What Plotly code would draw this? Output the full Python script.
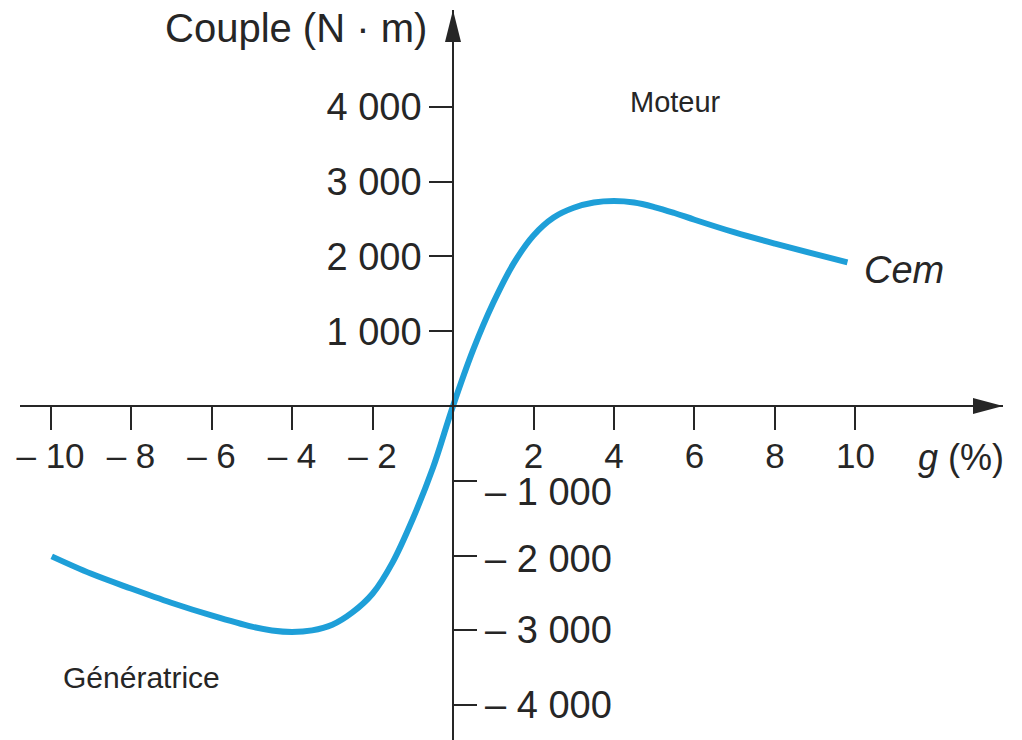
import plotly.graph_objects as go

# Slip g (%) and electromagnetic torque Cem (N·m), generator side then motor side
slip = [-9.97, -9.0, -8.0, -7.0, -6.0, -5.0, -4.5, -4.0, -3.5, -3.0, -2.5, -2.0, -1.5, -1.0, -0.5,
        0.0, 0.5, 1.0, 1.5, 2.0, 2.5, 3.0, 3.5, 4.0, 4.5, 5.0, 5.5, 6.0, 7.0, 8.0, 9.0, 9.8]
torque = [-2010, -2240, -2440, -2630, -2800, -2950, -3000, -3020, -3000, -2925, -2760, -2510, -2090, -1510, -830,
          0, 750, 1380, 1900, 2280, 2520, 2650, 2720, 2740, 2720, 2660, 2580, 2490, 2320, 2170, 2030, 1920]

x_ticks = [-10, -8, -6, -4, -2, 2, 4, 6, 8, 10]
x_tick_text = ["– 10", "– 8", "– 6", "– 4", "– 2", "2", "4", "6", "8", "10"]
y_ticks_pos = [1000, 2000, 3000, 4000]
y_tick_text_pos = ["1 000", "2 000", "3 000", "4 000"]
y_ticks_neg = [-1000, -2000, -3000, -4000]
y_tick_text_neg = ["– 1 000", "– 2 000", "– 3 000", "– 4 000"]

X_RANGE = [-10.758, 13.665]
Y_RANGE = [-4465, 5294]

FONT = "Liberation Sans, Arial, sans-serif"
INK = "#262626"
CURVE = "#1E9FD8"

x_pos = (0 - X_RANGE[0]) / (X_RANGE[1] - X_RANGE[0])
y_pos = (0 - Y_RANGE[0]) / (Y_RANGE[1] - Y_RANGE[0])

fig = go.Figure()
fig.add_trace(go.Scatter(
    x=slip, y=torque, mode="lines",
    line=dict(color=CURVE, width=6, shape="spline", smoothing=1.0),
    hoverinfo="skip", showlegend=False,
))
# empty companion trace so the right-hand (negative) torque axis is rendered
fig.add_trace(go.Scatter(x=[], y=[], yaxis="y2", mode="lines",
                         hoverinfo="skip", showlegend=False))

fig.update_layout(
    width=1022, height=740,
    margin=dict(l=20, r=19, t=10, b=0),
    paper_bgcolor="white", plot_bgcolor="white",
    font=dict(family=FONT, color=INK),
    xaxis=dict(
        range=X_RANGE, anchor="free", position=y_pos,
        showline=True, linecolor=INK, linewidth=1.6,
        showgrid=False, zeroline=False,
        tickmode="array", tickvals=x_ticks, ticktext=x_tick_text,
        ticks="outside", ticklen=23, tickwidth=1.5, tickcolor=INK,
        tickfont=dict(size=35, family=FONT, color=INK),
        ticklabelstandoff=-4,
    ),
    yaxis=dict(
        range=Y_RANGE, anchor="free", position=x_pos, side="left",
        showline=True, linecolor=INK, linewidth=1.6,
        showgrid=False, zeroline=False,
        tickmode="array", tickvals=y_ticks_pos, ticktext=y_tick_text_pos,
        ticks="outside", ticklen=23, tickwidth=1.5, tickcolor=INK,
        tickfont=dict(size=38, family=FONT, color=INK),
    ),
    yaxis2=dict(
        range=Y_RANGE, overlaying="y", anchor="free", position=x_pos, side="right",
        showline=False, showgrid=False, zeroline=False,
        tickmode="array", tickvals=y_ticks_neg, showticklabels=False,
        ticks="outside", ticklen=23, tickwidth=1.5, tickcolor=INK,
    ),
)

# labels of the negative torque ticks, right of the axis; the first one is
# nudged down to clear the slip labels
label_drop = {-1000: -11, -2000: -3}
for val, txt in zip(y_ticks_neg, y_tick_text_neg):
    fig.add_annotation(x=0, y=val, xref="x", yref="y", text=txt, showarrow=False,
                       xanchor="left", yanchor="middle", xshift=30,
                       yshift=label_drop.get(val, 0),
                       font=dict(size=38, family=FONT, color=INK))

# arrowheads at the ends of both axes (pixel-sized paths anchored in data space)
fig.add_shape(type="path", xref="x", yref="y", xsizemode="pixel", ysizemode="pixel",
              xanchor=X_RANGE[1], yanchor=0,
              path="M0,0 L-30,8 L-30,-8 Z", fillcolor=INK, line=dict(width=0))
fig.add_shape(type="path", xref="x", yref="y", xsizemode="pixel", ysizemode="pixel",
              xanchor=0, yanchor=Y_RANGE[1],
              path="M0,0 L-8,-32 L8,-32 Z", fillcolor=INK, line=dict(width=0))

fig.add_annotation(x=0, y=5053, xref="x", yref="y", text="Couple (N · m)", showarrow=False,
                   xanchor="right", yanchor="middle", xshift=-24,
                   font=dict(size=40, family=FONT, color=INK))
fig.add_annotation(x=12.62, y=-695, xref="x", yref="y", text="<i>g</i> (%)", showarrow=False,
                   xanchor="center", yanchor="middle", font=dict(size=36, family=FONT, color=INK))
fig.add_annotation(x=10.16, y=1818, xref="x", yref="y", text="<i>Cem</i>", showarrow=False,
                   xanchor="left", yanchor="middle", font=dict(size=38, family=FONT, color=INK))
fig.add_annotation(x=5.52, y=4064, xref="x", yref="y", text="Moteur", showarrow=False,
                   xanchor="center", yanchor="middle", font=dict(size=29, family=FONT, color=INK))
fig.add_annotation(x=-7.73, y=-3623, xref="x", yref="y", text="Génératrice", showarrow=False,
                   xanchor="center", yanchor="middle", font=dict(size=30, family=FONT, color=INK))

fig.write_html("out.html")
